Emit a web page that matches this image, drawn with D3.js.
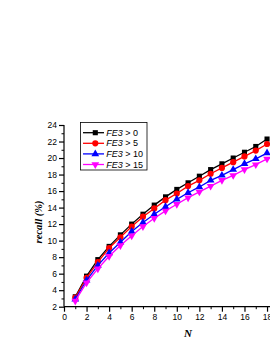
<!DOCTYPE html>
<html>
<head>
<meta charset="utf-8">
<script src="https://cdn.jsdelivr.net/npm/d3@7"></script>
<style>
    body { margin: 0; background: #fff; }
    svg { display: block; }
</style>
</head>
<body>
<div class="chart-area"></div>
<script>
const nValues = [1, 2, 3, 4, 5, 6, 7, 8, 9, 10, 11, 12, 13, 14, 15, 16, 17, 18];
const fe3gt0 = [3.2, 5.7, 7.7, 9.3, 10.7, 12.0, 13.2, 14.3, 15.3, 16.2, 17.0, 17.8, 18.6, 19.3, 20.0, 20.7, 21.4, 22.3];
const fe3gt5 = [3.1, 5.5, 7.4, 9.1, 10.4, 11.7, 12.9, 13.9, 14.9, 15.7, 16.6, 17.3, 18.1, 18.8, 19.5, 20.2, 20.9, 21.7];
const fe3gt10 = [2.9, 5.2, 7.0, 8.5, 9.8, 11.1, 12.2, 13.2, 14.1, 15.0, 15.8, 16.5, 17.3, 17.9, 18.6, 19.3, 19.9, 20.6];
const fe3gt15 = [2.7, 4.9, 6.6, 8.1, 9.4, 10.6, 11.7, 12.7, 13.6, 14.4, 15.2, 15.9, 16.6, 17.3, 17.9, 18.6, 19.2, 19.9];
const seriesNames = ["> 0", "> 5", "> 10", "> 15"];
const xTicks = [0, 2, 4, 6, 8, 10, 12, 14, 16, 18, 20];
const yTicks = [2, 4, 6, 8, 10, 12, 14, 16, 18, 20, 22, 24];

const width = 270;
const height = 349;

const svg = d3.select(".chart-area")
    .append("svg")
    .attr("width", width)
    .attr("height", height);

// plot spans beyond the right edge, the picture is cropped there
const x = d3.scaleLinear().domain([0, 20]).range([64, 289.6]);
const y = d3.scaleLinear().domain([2, 24]).range([306.7, 125]);

const series = [
    { name: seriesNames[0], values: fe3gt0, color: "#000000", symbol: d3.symbolSquare, size: 26, rot: 0 },
    { name: seriesNames[1], values: fe3gt5, color: "#ff0000", symbol: d3.symbolCircle, size: 30, rot: 0 },
    { name: seriesNames[2], values: fe3gt10, color: "#0000ff", symbol: d3.symbolTriangle, size: 26, rot: 0 },
    { name: seriesNames[3], values: fe3gt15, color: "#ff00ff", symbol: d3.symbolTriangle, size: 26, rot: 180 }
];

const tickFont = "'Liberation Sans', Arial, sans-serif";

// y axis
const yAxis = svg.append("g")
    .attr("transform", `translate(${x(0)},0)`)
    .call(d3.axisLeft(y).tickValues(yTicks).tickSize(5).tickPadding(2));
yAxis.select(".domain").attr("stroke-width", 1.2).attr("d", `M0,${y(2)}V${y(24)}`);
yAxis.selectAll(".tick line").attr("stroke-width", 1.2);
yAxis.selectAll("text").attr("font-family", tickFont).attr("font-size", 8.5).attr("fill", "#000");

svg.append("g")
    .attr("transform", `translate(${x(0)},0)`)
    .call(d3.axisLeft(y).tickValues(d3.range(3, 24, 2)).tickSize(2.5).tickFormat(""))
    .call(g => g.select(".domain").remove())
    .selectAll("line").attr("stroke-width", 1);

// x axis
const xAxis = svg.append("g")
    .attr("transform", `translate(0,${y(2)})`)
    .call(d3.axisBottom(x).tickValues(xTicks).tickSize(5).tickPadding(2));
xAxis.select(".domain").attr("stroke-width", 1.2).attr("d", `M${x(0)},0H${x(20)}`);
xAxis.selectAll(".tick line").attr("stroke-width", 1.2);
xAxis.selectAll("text").attr("font-family", tickFont).attr("font-size", 8.5).attr("fill", "#000");

svg.append("g")
    .attr("transform", `translate(0,${y(2)})`)
    .call(d3.axisBottom(x).tickValues(d3.range(1, 20, 2)).tickSize(2.5).tickFormat(""))
    .call(g => g.select(".domain").remove())
    .selectAll("line").attr("stroke-width", 1);

// axis titles
svg.append("text")
    .attr("x", 188)
    .attr("y", 337)
    .attr("text-anchor", "middle")
    .attr("font-family", "'Liberation Serif', 'Times New Roman', serif")
    .attr("font-weight", "bold")
    .attr("font-style", "italic")
    .attr("font-size", 11)
    .text("N");

svg.append("text")
    .attr("transform", "translate(42,222) rotate(-90)")
    .attr("text-anchor", "middle")
    .attr("font-family", "'Liberation Serif', 'Times New Roman', serif")
    .attr("font-weight", "bold")
    .attr("font-style", "italic")
    .attr("font-size", 10.5)
    .text("recall (%)");

// lines and markers
const line = d3.line()
    .x((d, i) => x(nValues[i]))
    .y(d => y(d));

series.forEach(s => {
    svg.append("path")
        .datum(s.values)
        .attr("fill", "none")
        .attr("stroke", s.color)
        .attr("stroke-width", 1.3)
        .attr("d", line);

    svg.append("g")
        .selectAll("path")
        .data(s.values)
        .join("path")
        .attr("transform", (d, i) => `translate(${x(nValues[i])},${y(d)}) rotate(${s.rot})`)
        .attr("d", d3.symbol().type(s.symbol).size(s.size))
        .attr("fill", s.color);
});

// legend
const legend = svg.append("g");
legend.append("rect")
    .attr("x", 80.5)
    .attr("y", 122.5)
    .attr("width", 66.5)
    .attr("height", 47.5)
    .attr("fill", "#fff")
    .attr("stroke", "#000")
    .attr("stroke-width", 0.8);

series.forEach((s, i) => {
    const ly = 132.7 + i * 10.6;
    legend.append("line")
        .attr("x1", 83).attr("x2", 104)
        .attr("y1", ly).attr("y2", ly)
        .attr("stroke", s.color)
        .attr("stroke-width", 1.3);
    legend.append("path")
        .attr("transform", `translate(95.3,${ly}) rotate(${s.rot})`)
        .attr("d", d3.symbol().type(s.symbol).size(s.size))
        .attr("fill", s.color);
    const t = legend.append("text")
        .attr("x", 106.3)
        .attr("y", ly + 3)
        .attr("font-family", tickFont)
        .attr("font-size", 9);
    t.append("tspan").attr("font-style", "italic").text("FE3");
    t.append("tspan").text(" " + s.name);
});
</script>
</body>
</html>
